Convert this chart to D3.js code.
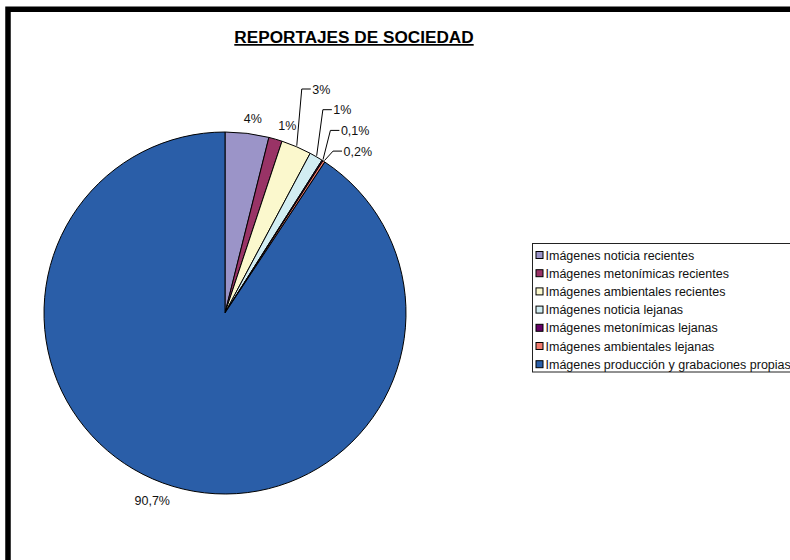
<!DOCTYPE html>
<html><head><meta charset="utf-8">
<script src="https://cdn.jsdelivr.net/npm/d3@7"></script>
<style>body{margin:0;background:#fff;}svg{display:block;font-family:"Liberation Sans",Arial,sans-serif;}</style>
</head><body>
<svg id="c" width="790" height="560"></svg>
<script>
const title = "REPORTAJES DE SOCIEDAD";
const categories = [
  "Imágenes noticia recientes",
  "Imágenes metonímicas recientes",
  "Imágenes ambientales recientes",
  "Imágenes noticia lejanas",
  "Imágenes metonímicas lejanas",
  "Imágenes ambientales lejanas",
  "Imágenes producción y grabaciones propias"
];
const values = [3.9, 1.2, 2.7, 1.2, 0.1, 0.2, 90.7];
const valueLabels = ["4%", "1%", "3%", "1%", "0,1%", "0,2%", "90,7%"];
const colors = ["#9b94c8", "#993366", "#fbf8cd", "#d2edf2", "#660066", "#f07a6c", "#2a5ea8"];
// which labels are moved out with a leader line (Excel callouts)
const callout = [false, false, true, true, true, true, false];

const svg = d3.select("#c");
const W = 790, H = 560;
const cx = 225, cy = 313, R = 181;

// frame (thick black border, top and left visible)
svg.append("path").attr("d", `M8,${H+5} L8,9.3 L${W+5},9.3`)
  .attr("fill","none").attr("stroke","#000").attr("stroke-width",5.5);

// title
svg.append("text").attr("x",354).attr("y",43).attr("text-anchor","middle")
  .attr("font-size",17.2).attr("font-weight","bold").attr("fill","#000")
  .attr("text-decoration","underline").text(title);

const pie = d3.pie().sort(null).value(d=>d).startAngle(0).endAngle(2*Math.PI);
const arcs = pie(values);
const arc = d3.arc().innerRadius(0).outerRadius(R);
const g = svg.append("g").attr("transform",`translate(${cx},${cy})`);
g.selectAll("path.s").data(arcs).join("path").attr("class","s")
  .attr("d",arc).attr("fill",(d,i)=>colors[i])
  .attr("stroke","#000").attr("stroke-width",1).attr("stroke-linejoin","round");

// labels
const fs = 12.5;
const lg = svg.append("g").attr("font-size",fs).attr("fill","#111");
let calloutIndex = 0;
const calloutTop = cy - R - 43, calloutStep = 20.7;
arcs.forEach((a,i)=>{
  const mid = (a.startAngle + a.endAngle)/2;
  const s = Math.sin(mid), c = -Math.cos(mid);
  if (!callout[i]) {
    const px = cx + (R+10)*s, py = cy + (R+10)*c;
    const tmp = lg.append("text").text(valueLabels[i]);
    const w = tmp.node().getComputedTextLength(), h = 9;
    const k = Math.max(-1, Math.min(1, s*4));
    const tx = px + w/2*k, ty = py + h/2*c;
    tmp.attr("x",tx).attr("y",ty + h/2).attr("text-anchor","middle");
  } else {
    const sx = cx + (R+1)*s, sy = cy + (R+1)*c;
    const ey = calloutTop + calloutIndex*calloutStep;
    const ex = sx + 5 + calloutIndex*1.2;
    const hx = ex + 9;
    lg.append("path").attr("d",`M${sx},${sy} L${ex},${ey} L${hx},${ey}`)
      .attr("fill","none").attr("stroke","#000").attr("stroke-width",1);
    lg.append("text").attr("x",hx+1.5).attr("y",ey+4.5).text(valueLabels[i]);
    calloutIndex++;
  }
});

// legend
const legX = 532.5, legY = 243.5, rowH = 18.2;
svg.append("rect").attr("x",legX).attr("y",legY).attr("width",W-legX+10)
  .attr("height",128.5).attr("fill","#fff").attr("stroke","#222").attr("stroke-width",1);
const li = svg.append("g").selectAll("g").data(categories).join("g")
  .attr("transform",(d,i)=>`translate(${legX+3},${legY+11.5+i*rowH})`);
li.append("rect").attr("x",0.5).attr("y",-3.5).attr("width",7).attr("height",7)
  .attr("fill",(d,i)=>colors[i]).attr("stroke","#000").attr("stroke-width",1);
li.append("text").attr("x",10).attr("y",4.5).attr("font-size",fs).attr("fill","#111").text(d=>d);
</script>
</body></html>
